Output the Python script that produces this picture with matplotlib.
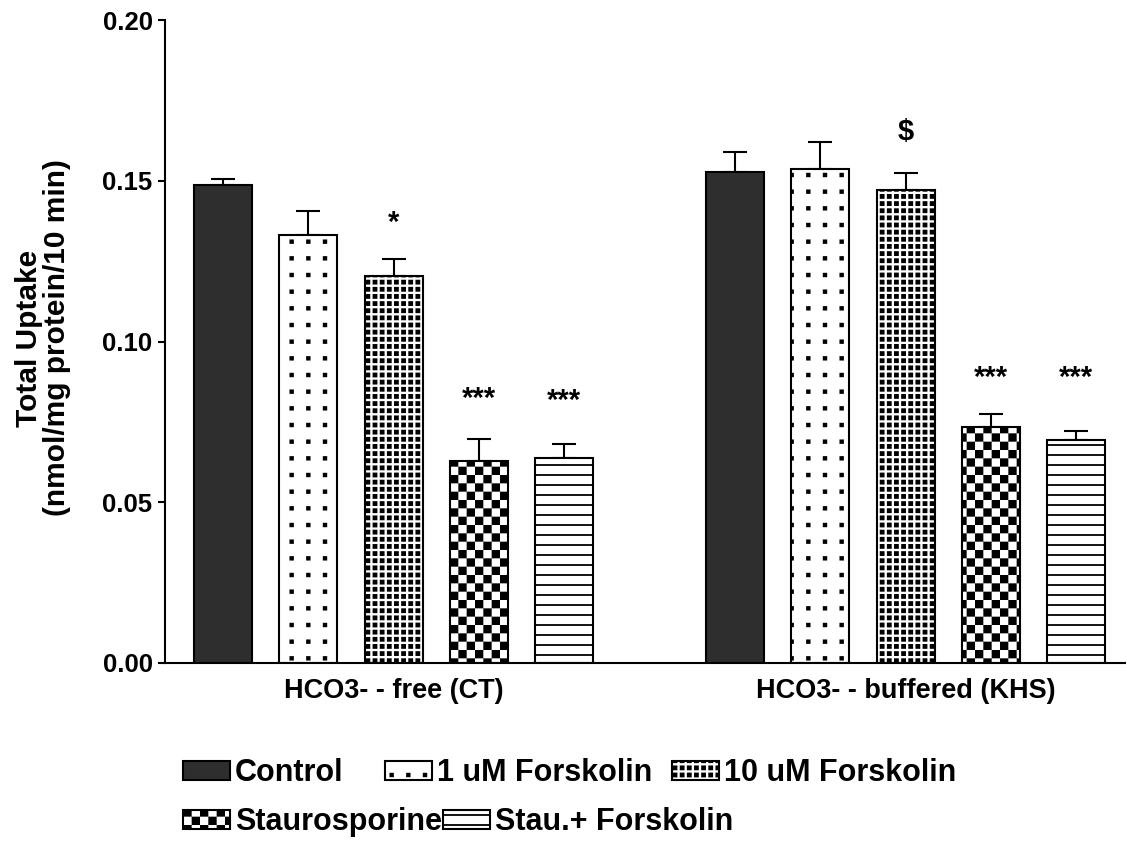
import numpy as np
import matplotlib
matplotlib.use("Agg")
import matplotlib.pyplot as plt
import matplotlib.hatch as mhatch
from matplotlib.path import Path
from matplotlib.patches import Patch

# ---------------- data ----------------
groups = ['HCO3- - free (CT)', 'HCO3- - buffered (KHS)']
treatments = ['Control', '1 uM Forskolin', '10 uM Forskolin',
              'Staurosporine', 'Stau.+ Forskolin']
mean_ct = [0.1488, 0.1332, 0.1205, 0.0628, 0.0639]
sem_ct = [0.0018, 0.0075, 0.0053, 0.0070, 0.0041]
mean_khs = [0.1526, 0.1536, 0.1471, 0.0734, 0.0693]
sem_khs = [0.0062, 0.0083, 0.0054, 0.0042, 0.0028]
sig_ct = ['', '', '*', '***', '***']
sig_khs = ['', '', '$', '***', '***']
y_ticks = [0.00, 0.05, 0.10, 0.15, 0.20]

# ---------------- custom hatches ----------------
class GridDots(mhatch.HatchPatternBase):
    def __init__(self, hatch, density):
        c = hatch.count('o')
        self.n = 0 if c == 0 else (6 if c == 1 else 14)
        self.d = 0.013 if c == 1 else 0.015
        self.num_vertices = self.n * self.n * 5

    def set_vertices_and_codes(self, vertices, codes):
        n = self.n
        d = self.d
        k = 0
        for i in range(n):
            for j in range(n):
                cx = (i + 0.5) / n
                cy = (j + 0.5) / n
                vertices[k:k + 5] = [[cx - d, cy - d], [cx + d, cy - d],
                                     [cx + d, cy + d], [cx - d, cy + d],
                                     [cx - d, cy - d]]
                codes[k:k + 5] = [Path.MOVETO, Path.LINETO, Path.LINETO,
                                  Path.LINETO, Path.CLOSEPOLY]
                k += 5


class Checker(mhatch.HatchPatternBase):
    def __init__(self, hatch, density):
        c = hatch.count('*')
        self.n = 12 * c
        self.num_vertices = (self.n * self.n // 2) * 5

    def set_vertices_and_codes(self, vertices, codes):
        n = self.n
        ins = 0.009
        k = 0
        for i in range(n):
            for j in range(n):
                if (i + j) % 2:
                    continue
                x0, x1 = i / n + ins, (i + 1) / n - ins
                y0, y1 = j / n + ins, (j + 1) / n - ins
                vertices[k:k + 5] = [[x0, y0], [x1, y0], [x1, y1],
                                     [x0, y1], [x0, y0]]
                codes[k:k + 5] = [Path.MOVETO, Path.LINETO, Path.LINETO,
                                  Path.LINETO, Path.CLOSEPOLY]
                k += 5


class HLines(mhatch.HatchPatternBase):
    def __init__(self, hatch, density):
        self.n = 10 * hatch.count('-')
        self.num_vertices = self.n * 2

    def set_vertices_and_codes(self, vertices, codes):
        for i in range(self.n):
            y = (i + 0.5) / self.n
            vertices[2 * i] = [0.0, y]
            vertices[2 * i + 1] = [1.0, y]
            codes[2 * i] = Path.MOVETO
            codes[2 * i + 1] = Path.LINETO


mhatch._hatch_types[:] = [GridDots, Checker, HLines]

plt.rcParams['font.family'] = ['Liberation Sans', 'DejaVu Sans']
plt.rcParams['font.weight'] = 'bold'
plt.rcParams['hatch.linewidth'] = 1.3
plt.rcParams['hatch.color'] = 'black'

faces = ['#2e2e2e', 'white', 'white', 'white', 'white']
hatches = [None, 'o', 'oo', '*', '-']

# ---------------- figure ----------------
W, H = 1127, 844
fig = plt.figure(figsize=(W / 100, H / 100), dpi=100)
ax = fig.add_axes([165 / W, 181 / H, (1125 - 165) / W, 643 / H])

bw = 0.68
for i in range(len(treatments)):
    xs = [i, 6 + i]
    ys = [mean_ct[i], mean_khs[i]]
    es = [sem_ct[i], sem_khs[i]]
    ax.errorbar(xs, ys, yerr=[[0, 0], es], fmt='none', ecolor='black',
                elinewidth=1.5, capsize=8.5, capthick=1.5, zorder=1)
    ax.bar(xs, ys, width=bw, color=faces[i], edgecolor='black',
           linewidth=1.5, hatch=hatches[i], zorder=2)

# significance marks
sig_y_ct = [0, 0, 0.1370, 0.0822, 0.0816]
sig_y_khs = [0, 0, 0.1652, 0.0886, 0.0886]
for i in range(len(treatments)):
    for xpos, s, yv in ((i, sig_ct[i], sig_y_ct[i]),
                        (6 + i, sig_khs[i], sig_y_khs[i])):
        if s:
            ax.text(xpos, yv, s, ha='center', va='center',
                    fontsize=21, fontweight='bold')

ax.set_ylim(0, 0.2)
ax.set_xlim(-0.68, 10.57)
ax.set_yticks(y_ticks)
ax.set_yticklabels([f'{v:.2f}' for v in y_ticks], fontsize=18.5,
                   fontweight='bold')
ax.set_xticks([2, 8])
ax.set_xticklabels(groups, fontsize=19.5, fontweight='bold')
ax.tick_params(axis='x', length=0, pad=11)
ax.tick_params(axis='y', length=5, width=1.5, pad=4)
for s in ('top', 'right'):
    ax.spines[s].set_visible(False)
for s in ('left', 'bottom'):
    ax.spines[s].set_linewidth(1.5)

fig.text(43 / W, 1 - 338 / H, 'Total Uptake\n(nmol/mg protein/10 min)',
         rotation=90, ha='center', va='center', multialignment='center',
         fontsize=21.5, fontweight='bold', linespacing=1.0)

# legend entries, placed as in the reference
handles = [Patch(facecolor=faces[i], edgecolor='black', linewidth=1.5,
                 hatch=hatches[i], label=treatments[i])
           for i in range(len(treatments))]
leg_pos = [(183, 773), (385, 773), (672, 773), (183, 822), (443, 822)]
leg_kw = dict(frameon=False, fontsize=22, handlelength=1.55,
              handleheight=0.6, handletextpad=0.15,
              borderaxespad=0, borderpad=0, loc='center left')
for h, (px, py) in zip(handles, leg_pos):
    leg = fig.legend(handles=[h], bbox_to_anchor=(px / W, 1 - py / H),
                     **leg_kw)
    for t in leg.get_texts():
        t.set_fontweight('bold')

fig.savefig('out.png', dpi=100)
